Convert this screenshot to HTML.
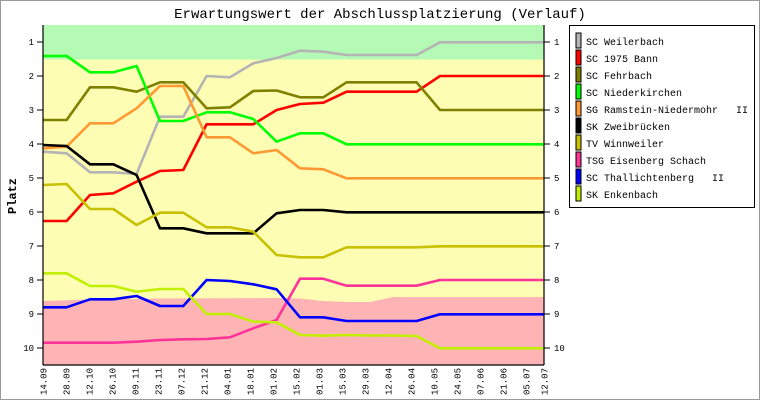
<!DOCTYPE html>
<html><head><meta charset="utf-8"><style>
html,body{margin:0;padding:0;background:#fff;}
svg{display:block;font-family:"Liberation Mono",monospace;}
</style></head><body>
<svg width="760" height="400" viewBox="0 0 760 400" xmlns="http://www.w3.org/2000/svg">
<rect x="0.5" y="0.5" width="759" height="399" fill="#fff" stroke="#999"/>
<text x="380" y="18" text-anchor="middle" font-size="14">Erwartungswert der Abschlussplatzierung (Verlauf)</text>
<rect x="43" y="25" width="501" height="340" fill="#fdfdb4"/>
<rect x="43" y="25" width="501" height="34.5" fill="#b4fab4"/>
<polygon fill="#feb4b4" points="43,301 90,299.5 160,298.5 276,298 300,298.5 323,301 347,302 370,302 393,297 544,297 544,365 43,365"/>
<g fill="none" stroke-width="2.6" stroke-linejoin="round">
<polyline stroke="#b4b4b4" points="43.3,151.7 66.6,153.3 90,172.3 113.3,172.3 136.6,174 160,116.7 183.3,116.7 206.6,76 230,77.3 253.3,63.3 276.6,58 300,50.7 323.3,51.7 346.6,55 370,55 393.3,55 416.6,55 440,42.3 463.3,42.3 486.6,42.3 510,42.3 533.3,42.3 544,42.3"/>
<polyline stroke="#ff0000" points="43.3,221 66.6,221 90,195 113.3,193.3 136.6,181.7 160,171 183.3,170 206.6,124.3 230,124.3 253.3,124.3 276.6,110 300,104 323.3,102.7 346.6,91.7 370,91.7 393.3,91.7 416.6,91.7 440,76 463.3,76 486.6,76 510,76 533.3,76 544,76"/>
<polyline stroke="#808000" points="43.3,120 66.6,120 90,87.3 113.3,87.3 136.6,91.7 160,82.3 183.3,82.3 206.6,108.3 230,107.3 253.3,91 276.6,90.5 300,97.3 323.3,97.3 346.6,82.3 370,82.3 393.3,82.3 416.6,82.3 440,110 463.3,110 486.6,110 510,110 533.3,110 544,110"/>
<polyline stroke="#00ff00" points="43.3,56 66.6,56 90,72.3 113.3,72.3 136.6,66 160,121 183.3,121 206.6,112.3 230,112.3 253.3,119 276.6,141.7 300,133.3 323.3,133.3 346.6,144.3 370,144.3 393.3,144.3 416.6,144.3 440,144.3 463.3,144.3 486.6,144.3 510,144.3 533.3,144.3 544,144.3"/>
<polyline stroke="#ff9933" points="43.3,148.3 66.6,146.7 90,123.3 113.3,123.3 136.6,108.3 160,86 183.3,86 206.6,137.3 230,137.3 253.3,153.3 276.6,150 300,168.3 323.3,169.3 346.6,178.3 370,178.3 393.3,178.3 416.6,178.3 440,178.3 463.3,178.3 486.6,178.3 510,178.3 533.3,178.3 544,178.3"/>
<polyline stroke="#000000" points="43.3,145 66.6,146 90,164.3 113.3,164.3 136.6,175 160,228.3 183.3,228.3 206.6,233.3 230,233.3 253.3,233.3 276.6,213.3 300,210 323.3,210 346.6,212.3 370,212.3 393.3,212.3 416.6,212.3 440,212.3 463.3,212.3 486.6,212.3 510,212.3 533.3,212.3 544,212.3"/>
<polyline stroke="#c8c000" points="43.3,185 66.6,184 90,209 113.3,209 136.6,225 160,212.7 183.3,212.7 206.6,227.3 230,227.3 253.3,231.7 276.6,255 300,257.3 323.3,257.3 346.6,247.3 370,247.3 393.3,247.3 416.6,247.3 440,246.3 463.3,246.3 486.6,246.3 510,246.3 533.3,246.3 544,246.3"/>
<polyline stroke="#ff3399" points="43.3,342.7 66.6,342.7 90,342.7 113.3,342.7 136.6,341.7 160,340 183.3,339.3 206.6,339 230,337.3 253.3,328.3 276.6,320 300,278.7 323.3,278.7 346.6,285.7 370,285.7 393.3,285.7 416.6,285.7 440,280 463.3,280 486.6,280 510,280 533.3,280 544,280"/>
<polyline stroke="#0000ff" points="43.3,307.3 66.6,307.3 90,299.3 113.3,299.3 136.6,296 160,306 183.3,306 206.6,280 230,281 253.3,284.3 276.6,289.3 300,317.3 323.3,317.3 346.6,321 370,321 393.3,321 416.6,321 440,314.3 463.3,314.3 486.6,314.3 510,314.3 533.3,314.3 544,314.3"/>
<polyline stroke="#c0f000" points="43.3,273.3 66.6,273.3 90,286 113.3,286 136.6,291.7 160,289 183.3,289 206.6,314 230,314 253.3,321.7 276.6,322.3 300,335 323.3,335.7 346.6,335 370,335.5 393.3,335.5 416.6,336 440,348.3 463.3,348.3 486.6,348.3 510,348.3 533.3,348.3 544,348.3"/>
</g>
<g stroke="#000" stroke-width="1.2" fill="none">
<line x1="43" y1="25" x2="43" y2="365"/>
<line x1="544" y1="25" x2="544" y2="365"/>
<line x1="43" y1="365" x2="544" y2="365"/>
</g>
<g stroke="#000" stroke-width="1">
<line x1="37" y1="42" x2="43" y2="42"/><line x1="544" y1="42" x2="550" y2="42"/>
<line x1="37" y1="76" x2="43" y2="76"/><line x1="544" y1="76" x2="550" y2="76"/>
<line x1="37" y1="110" x2="43" y2="110"/><line x1="544" y1="110" x2="550" y2="110"/>
<line x1="37" y1="144" x2="43" y2="144"/><line x1="544" y1="144" x2="550" y2="144"/>
<line x1="37" y1="178" x2="43" y2="178"/><line x1="544" y1="178" x2="550" y2="178"/>
<line x1="37" y1="212" x2="43" y2="212"/><line x1="544" y1="212" x2="550" y2="212"/>
<line x1="37" y1="246" x2="43" y2="246"/><line x1="544" y1="246" x2="550" y2="246"/>
<line x1="37" y1="280" x2="43" y2="280"/><line x1="544" y1="280" x2="550" y2="280"/>
<line x1="37" y1="314" x2="43" y2="314"/><line x1="544" y1="314" x2="550" y2="314"/>
<line x1="37" y1="348" x2="43" y2="348"/><line x1="544" y1="348" x2="550" y2="348"/>
</g>
<g font-size="9" text-anchor="end">
<text x="34" y="45">1</text><text x="34" y="79">2</text><text x="34" y="113">3</text><text x="34" y="147">4</text><text x="34" y="181">5</text><text x="34" y="215">6</text><text x="34" y="249">7</text><text x="34" y="283">8</text><text x="34" y="317">9</text><text x="34" y="351">10</text>
</g>
<g font-size="9">
<text x="554" y="45">1</text><text x="554" y="79">2</text><text x="554" y="113">3</text><text x="554" y="147">4</text><text x="554" y="181">5</text><text x="554" y="215">6</text><text x="554" y="249">7</text><text x="554" y="283">8</text><text x="554" y="317">9</text><text x="554" y="351">10</text>
</g>
<text transform="translate(16,196) rotate(-90)" text-anchor="middle" font-size="12" font-weight="bold">Platz</text>
<g font-size="9" text-anchor="end">
<text transform="translate(46.5,368) rotate(-90)">14.09</text>
<text transform="translate(69.5,368) rotate(-90)">28.09</text>
<text transform="translate(92.5,368) rotate(-90)">12.10</text>
<text transform="translate(115.5,368) rotate(-90)">26.10</text>
<text transform="translate(138.5,368) rotate(-90)">09.11</text>
<text transform="translate(161.5,368) rotate(-90)">23.11</text>
<text transform="translate(184.5,368) rotate(-90)">07.12</text>
<text transform="translate(207.5,368) rotate(-90)">21.12</text>
<text transform="translate(230.5,368) rotate(-90)">04.01</text>
<text transform="translate(253.5,368) rotate(-90)">18.01</text>
<text transform="translate(276.5,368) rotate(-90)">01.02</text>
<text transform="translate(299.5,368) rotate(-90)">15.02</text>
<text transform="translate(322.5,368) rotate(-90)">01.03</text>
<text transform="translate(345.5,368) rotate(-90)">15.03</text>
<text transform="translate(368.5,368) rotate(-90)">29.03</text>
<text transform="translate(391.5,368) rotate(-90)">12.04</text>
<text transform="translate(414.5,368) rotate(-90)">26.04</text>
<text transform="translate(437.5,368) rotate(-90)">10.05</text>
<text transform="translate(460.5,368) rotate(-90)">24.05</text>
<text transform="translate(483.5,368) rotate(-90)">07.06</text>
<text transform="translate(506.5,368) rotate(-90)">21.06</text>
<text transform="translate(529.5,368) rotate(-90)">05.07</text>
<text transform="translate(547.5,368) rotate(-90)">12.07</text>
</g>
<rect x="569.5" y="25.5" width="185" height="182" fill="#fff" stroke="#000"/>
<g stroke="#000" stroke-width="1">
<rect x="576" y="33" width="5" height="15" fill="#b4b4b4"/>
<rect x="576" y="50" width="5" height="15" fill="#ff0000"/>
<rect x="576" y="67" width="5" height="15" fill="#808000"/>
<rect x="576" y="84" width="5" height="15" fill="#00ff00"/>
<rect x="576" y="101" width="5" height="15" fill="#ff9933"/>
<rect x="576" y="118" width="5" height="15" fill="#000000"/>
<rect x="576" y="135" width="5" height="15" fill="#c8c000"/>
<rect x="576" y="152" width="5" height="15" fill="#ff3399"/>
<rect x="576" y="169" width="5" height="15" fill="#0000ff"/>
<rect x="576" y="186" width="5" height="15" fill="#c0f000"/>
</g>
<g font-size="10">
<text x="586" y="45">SC Weilerbach</text>
<text x="586" y="62">SC 1975 Bann</text>
<text x="586" y="79">SC Fehrbach</text>
<text x="586" y="96">SC Niederkirchen</text>
<text x="586" y="113">SG Ramstein-Niedermohr&#160;&#160;&#160;II</text>
<text x="586" y="130">SK Zweibrücken</text>
<text x="586" y="147">TV Winnweiler</text>
<text x="586" y="164">TSG Eisenberg Schach</text>
<text x="586" y="181">SC Thallichtenberg&#160;&#160;&#160;II</text>
<text x="586" y="198">SK Enkenbach</text>
</g>
</svg>
</body></html>
